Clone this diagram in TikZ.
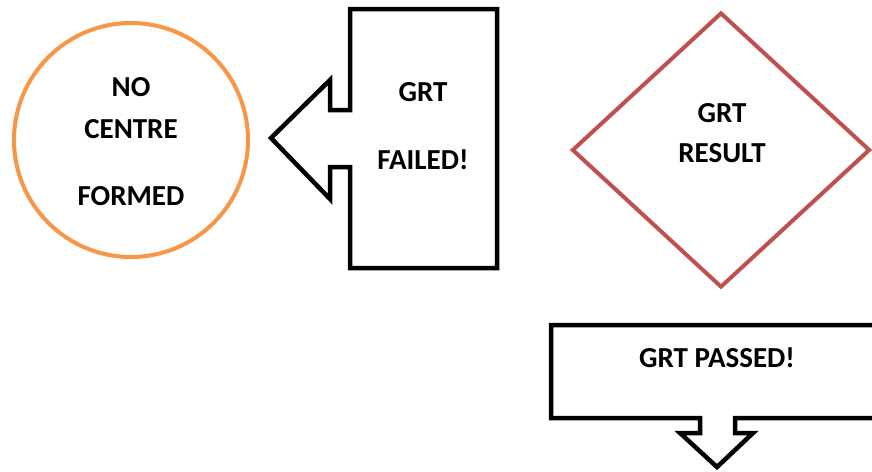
\documentclass[tikz,border=0pt]{standalone}
\usepackage{fontspec}
\setmainfont{Carlito}[BoldFont={Carlito Bold}]
\usetikzlibrary{shapes.geometric,positioning}

\tikzset{
    label text/.style={font=\bfseries\fontsize{29}{31}\selectfont, inner sep=0pt},
    callout line/.style={draw=black, line width=4.5pt, line join=miter},
}

\begin{document}
\begin{tikzpicture}[x=1pt,y=-1pt]
        \clip (0,0) rectangle (872,471);
        % Draw the circle on the left
        \node[circle, draw={rgb,255:red,247;green,150;blue,70}, line width=4pt, minimum size=234pt, inner sep=0pt] (centre) at (131,140) {};
        \node[label text] (no) at (131,87) {NO};
        \node[label text] (cen) at (131,129) {CENTRE};
        \node[label text] (formed) at (131,196) {FORMED};
        % Draw the box with the arrow pointing left
        \draw[callout line] (350,9) -- (497,9) -- (497,268) -- (350,268) -- (350,167) -- (330,167)
            -- (330,199) -- (271,138) -- (330,80) -- (330,110) -- (350,110) -- cycle;
        \node[label text] (grtf) at (423,92) {GRT};
        \node[label text] (failed) at (423,160) {FAILED!};
        % Draw the decision diamond
        \node[diamond, draw={rgb,255:red,192;green,80;blue,77}, line width=4pt, minimum width=298pt, minimum height=275pt, inner sep=0pt] (result) at (721,150) {};
        \node[label text] (grtr) at (722,113) {GRT};
        \node[label text] (res) at (722,153) {RESULT};
        % Draw the box with the arrow pointing down
        \draw[callout line] (890,325) -- (551,325) -- (551,418) -- (700,418) -- (700,433) -- (680,433)
            -- (717,467) -- (753,433) -- (735,433) -- (735,418) -- (890,418);
        \node[label text] (passed) at (717,358) {GRT PASSED!};
\end{tikzpicture}
\end{document}
